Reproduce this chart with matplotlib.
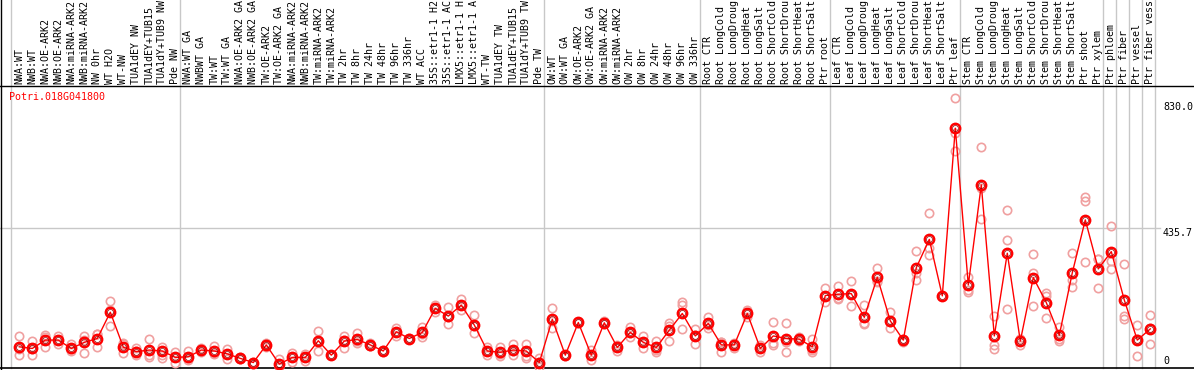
import numpy as np
import matplotlib
matplotlib.use("Agg")
import matplotlib.pyplot as plt
import matplotlib.transforms as mtransforms

# ---- data ----
gene = "Potri.018G041800"

labels = [
    "NWA:WT", "NWB:WT", "NWA:OE-ARK2", "NWB:OE-ARK2", "NWA:miRNA-ARK2",
    "NWB:miRNA-ARK2", "NW 0hr", "WT H2O", "WT-NW", "TUA1dEY NW",
    "TUA1dEY+TUB15", "TUA1dY+TUB9 NW", "Pde NW",
    "NWA:WT GA", "NWBWT GA", "TW:WT", "TW:WT GA", "NWA:OE-ARK2 GA",
    "NWB:OE-ARK2 GA", "TW:OE-ARK2", "TW:OE-ARK2 GA", "NWA:miRNA-ARK2",
    "NWB:miRNA-ARK2", "TW:miRNA-ARK2", "TW:miRNA-ARK2", "TW 2hr", "TW 8hr",
    "TW 24hr", "TW 48hr", "TW 96hr", "TW 336hr", "WT ACC", "35S::etr1-1 H2",
    "35S::etr1-1 AC", "LMX5::etr1-1 H", "LMX5::etr1-1 A", "WT-TW",
    "TUA1dEY TW", "TUA1dEY+TUB15", "TUA1dY+TUB9 TW", "Pde TW",
    "OW:WT", "OW:WT GA", "OW:OE-ARK2", "OW:OE-ARK2 GA", "OW:miRNA-ARK2",
    "OW:miRNA-ARK2", "OW 2hr", "OW 8hr", "OW 24hr", "OW 48hr", "OW 96hr",
    "OW 336hr",
    "Root CTR", "Root LongCold", "Root LongDroug", "Root LongHeat",
    "Root LongSalt", "Root ShortCold", "Root ShortDrou", "Root ShortHeat",
    "Root ShortSalt", "Ptr root",
    "Leaf CTR", "Leaf LongCold", "Leaf LongDroug", "Leaf LongHeat",
    "Leaf LongSalt", "Leaf ShortCold", "Leaf ShortDrou", "Leaf ShortHeat",
    "Leaf ShortSalt", "Ptr leaf",
    "Stem CTR", "Stem LongCold", "Stem LongDroug", "Stem LongHeat",
    "Stem LongSalt", "Stem ShortCold", "Stem ShortDrou", "Stem ShortHeat",
    "Stem ShortSalt", "Ptr shoot", "Ptr xylem",
    "Ptr phloem", "Ptr fiber", "Ptr vessel", "Ptr fiber vess",
]
group_sizes = [13, 28, 12, 10, 10, 11, 1, 1, 1, 1]

means = [
    66, 61, 87, 87, 61, 80, 92, 174, 65, 51, 56, 53, 33,
    35, 56, 53, 44, 30, 17, 72, 12, 33, 33, 85, 40, 84, 89, 72, 53, 113,
    92, 111, 186, 162, 196, 134, 53, 49, 56, 53, 17,
    152, 40, 142, 40, 141, 64, 111, 80, 64, 118, 170, 100,
    139, 72, 72, 170, 61, 100, 92, 90, 66, 226,
    230, 232, 158, 283, 147, 87, 313, 401, 225, 748,
    259, 571, 100, 358, 84, 282, 204, 102, 297, 462, 309,
    363, 212, 87, 122,
]
rep_a = [
    100, 84, 103, 100, 75, 100, 105, 209, 77, 61, 92, 66, 51,
    53, 61, 69, 58, 35, 20, 77, 27, 46, 44, 116, 40, 100, 108, 77, 53, 126,
    92, 129, 196, 189, 214, 165, 53, 64, 75, 75, 30,
    186, 40, 142, 56, 148, 72, 129, 100, 85, 139, 207, 121,
    160, 82, 79, 181, 72, 145, 139, 98, 92, 248,
    256, 271, 196, 311, 174, 82, 365, 482, 225, 843,
    285, 690, 162, 493, 89, 356, 233, 129, 358, 532, 339,
    443, 324, 134, 165,
]
rep_b = [
    40, 40, 66, 74, 54, 47, 64, 131, 46, 40, 35, 40, 17,
    25, 51, 46, 27, 27, 14, 66, 4, 20, 33, 54, 41, 61, 77, 68, 50, 113,
    93, 98, 176, 136, 181, 108, 40, 38, 40, 37, 2,
    124, 42, 144, 25, 140, 53, 96, 61, 51, 84, 196, 74,
    124, 51, 61, 160, 51, 77, 82, 90, 51, 205,
    215, 193, 137, 269, 124, 92, 275, 373, 224, 732,
    243, 560, 72, 399, 72, 295, 155, 85, 275, 522, 249,
    334, 162, 37, 74,
]
rep_c = [
    60, 60, 98, 88, 58, 88, 105, 180, 75, 52, 40, 30, 33,
    30, 56, 45, 45, 28, 17, 72, 7, 33, 22, 85, 40, 87, 84, 70, 55, 100,
    92, 105, 186, 160, 196, 130, 65, 45, 52, 32, 18,
    146, 38, 140, 40, 136, 68, 108, 80, 57, 130, 121, 104,
    134, 80, 75, 170, 61, 72, 51, 84, 56, 224,
    218, 232, 141, 270, 142, 87, 297, 352, 226, 677,
    238, 465, 59, 184, 90, 193, 223, 92, 252, 330, 340,
    309, 152, 90, 126,
]
axis_marks = [830.0, 435.7, 0]

# ---- layout (pixels of the 1194x370 picture) ----
W, H = 1194, 370
ZERO_PX = 368            # row of the zero line
UNIT_PX = 139.7 / 435.7  # pixels per expression unit
COL_PX = 13              # column pitch
FIRST_PX = 19.3          # centre of the first column
MONO = "DejaVu Sans Mono"
FS = 7.2


def yval(px):
    return (ZERO_PX - px) / UNIT_PX


def xval(px):
    return (px - FIRST_PX) / COL_PX


fig = plt.figure(figsize=(W / 100, H / 100), dpi=100)
ax = fig.add_axes([0, 0, 1, 1])
ax.set_xlim(xval(0), xval(W))
ax.set_ylim(yval(H), yval(0))
ax.axis("off")

# frame lines
ax.axhline(yval(85.5), color="black", lw=1.0)
ax.axhline(0, color="black", lw=1.2)
ax.axvline(xval(1), color="black", lw=1.0)
ax.axhline(435.7, xmax=1160 / W, color="#c8c8c8", lw=1.0, zorder=0)

# group separators
bounds = np.cumsum([0] + group_sizes) - 0.64
for b in bounds:
    ax.axvline(b, ymin=(H - ZERO_PX) / H, ymax=1, color="#c8c8c8", lw=1.0, zorder=0)

x = np.arange(len(means))

for rep in (rep_a, rep_b, rep_c):
    ax.plot(x, rep, "o", mfc="none", mec="#f0a0a0", ms=6, mew=1.2, zorder=2)

ax.plot(x, means, color="red", lw=1.0, zorder=3)
ax.plot(x, means, "o", mfc="none", mec="red", ms=6.8, mew=1.7, zorder=4)
ax.plot(x, means, "o", mfc="none", mec="#900000", ms=4.3, mew=0.5, zorder=5)

# column labels in the header
for i, lab in enumerate(labels):
    ax.text(i, yval(83.5), lab, rotation=90, ha="center", va="bottom",
            family=MONO, fontsize=FS, color="black")

ax.text(xval(9), yval(97), gene, color="red", ha="left", va="center",
        family=MONO, fontsize=FS)

# value marks on the right
tr = mtransforms.blended_transform_factory(ax.transAxes, ax.transData)
for v in axis_marks:
    if v == 0:
        ax.text(1163 / W, yval(366), "0", transform=tr, ha="left", va="bottom",
                family=MONO, fontsize=FS)
    else:
        ax.text(1163 / W, v, f"{v:.1f}", transform=tr, ha="left", va="top",
                family=MONO, fontsize=FS)

fig.savefig("out.png", dpi=100)
